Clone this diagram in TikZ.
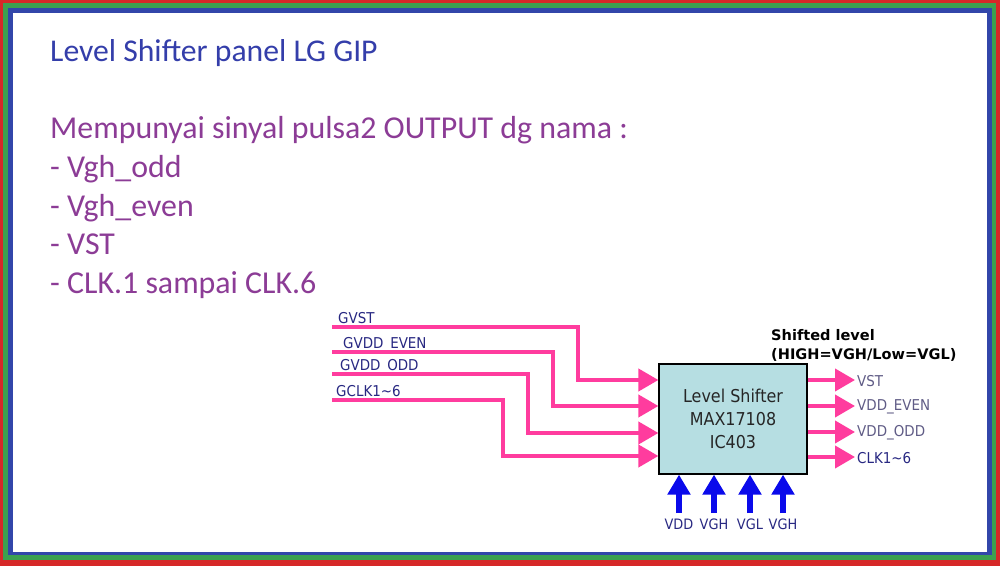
\documentclass[tikz,border=0pt]{standalone}
\usepackage{fontspec}
\setmainfont{Carlito}
\newfontfamily\schfont[FakeStretch=0.9]{DejaVu Sans}
\newfontfamily\notefont{DejaVu Sans}
\usetikzlibrary{arrows.meta}
\definecolor{frred}{RGB}{214,40,40}
\definecolor{frgreen}{RGB}{60,160,80}
\definecolor{frblue}{RGB}{50,70,170}
\definecolor{titleblue}{RGB}{52,62,170}
\definecolor{txtpurple}{RGB}{140,60,150}
\definecolor{sigpink}{RGB}{255,60,158}
\definecolor{icfill}{RGB}{182,222,226}
\definecolor{signavy}{RGB}{40,40,130}
\definecolor{siggray}{RGB}{96,92,134}
\definecolor{pwrblue}{RGB}{10,10,235}

\begin{document}
\begin{tikzpicture}[
	x=1bp,y=-1bp,
	icbox/.style={draw=black,line width=1.2bp,fill=icfill,minimum width=148bp,minimum height=110bp,inner sep=0pt,align=center,font=\schfont\fontsize{17.8}{23}\selectfont,text=black!85},
	sig/.style={inner sep=0pt,font=\schfont\fontsize{15}{17}\selectfont,text=signavy},
	pline/.style={draw=sigpink,line width=4bp,-{Triangle[length=20bp,width=22bp]}},
	vline/.style={draw=pwrblue,line width=6bp,-{Triangle[length=20bp,width=22bp]}},
	ptext/.style={anchor=base west,inner sep=0pt,text=txtpurple,font=\fontsize{32}{36}\selectfont}
	]
	% frame
	\fill[frred] (0,0) rectangle (1000,566);
	\fill[frgreen] (3,3) rectangle (996,560);
	\fill[frblue] (8,8) rectangle (992,555);
	\fill[white] (13,13) rectangle (987,552);
	\useasboundingbox (0,0) rectangle (1000,566);
	% texts
	\node[anchor=base west,inner sep=0pt,text=titleblue,font=\fontsize{31.8}{36}\selectfont] (title) at (50,62) {Level Shifter panel LG GIP};
	\foreach \i/\y/\t in {1/139/Mempunyai sinyal pulsa2 OUTPUT dg nama :,2/178/- Vgh\_odd,3/216.5/- Vgh\_even,4/255/- VST,5/293.5/- CLK.1 sampai CLK.6}{
		\node[ptext] (line\i) at (50,\y) {\t};
	}
	% level shifter
	\node[icbox] (ls) at (733,419) {Level Shifter\\MAX17108\\IC403};
	\node[anchor=south west,inner sep=0pt,align=left,font=\notefont\bfseries\fontsize{14.6}{19}\selectfont] (shift) at (771,362) {Shifted level\\(HIGH=VGH/Low=VGL)};
	% inputs
	\foreach \i/\lab/\y/\xl/\xt/\yb in {1/GVST/327/338/578/380,2/GVDD\_EVEN/352/343/553/406,3/GVDD\_ODD/374/340/528/433,4/GCLK1\textasciitilde 6/400/336/503/456}{
		\coordinate (in\i) at (332,\y);
		\coordinate (ib\i) at (ls.west |- 0,\yb);
		\node[sig,anchor=base west] (gl\i) at (\xl,\y-4) {\lab};
		\draw[pline] (in\i) -- (\xt,\y) |- (ib\i);
	}
	% outputs
	\foreach \i/\lab/\y/\c in {1/VST/380/siggray,2/VDD\_EVEN/406/siggray,3/VDD\_ODD/432/siggray,4/CLK1\textasciitilde 6/457/signavy}{
		\node[sig,anchor=west,text=\c] (out\i) at (857,\y+1) {\lab};
		\draw[pline] (ls.east |- 0,\y) -- (855,\y);
	}
	% supplies
	\foreach \i/\x/\lab in {1/679/VDD,2/714/VGH,3/750/VGL,4/783/VGH}{
		\node[sig,font=\schfont\fontsize{14.4}{17}\selectfont] (pw\i) at (\x,524) {\lab};
		\coordinate (ps\i) at (\x,513);
		\draw[vline] (ps\i) -- (ps\i |- ls.south);
	}
\end{tikzpicture}
\end{document}
